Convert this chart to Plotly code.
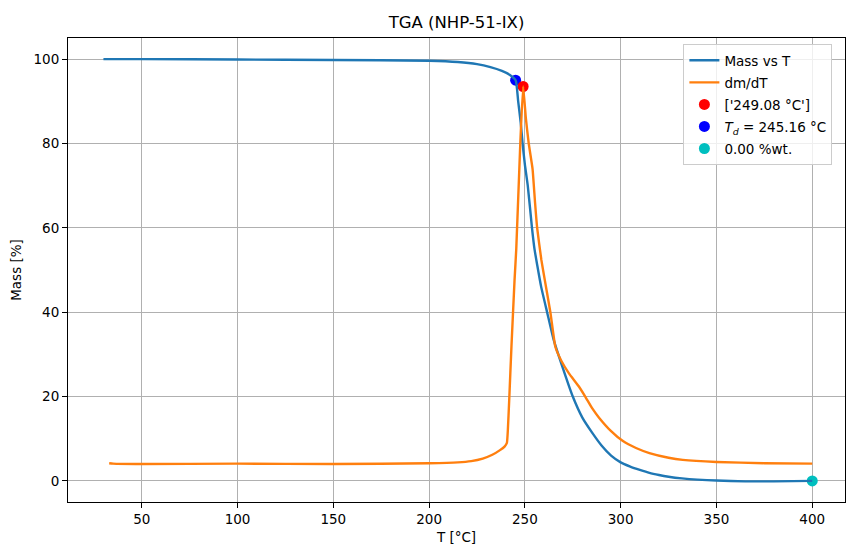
import plotly.graph_objects as go

# Thermogravimetric curve: temperature [°C] and remaining mass [%]
temp_mass = [30, 50, 100, 150, 200, 215, 225, 232, 238, 242, 245.16, 246.5, 247.8,
             248.8, 250, 251.5, 253.7, 255, 256.5, 258.5, 261.6, 265, 270, 275, 280,
             285, 290, 295, 300, 305, 310, 315, 320, 325, 332, 340, 350, 365, 380, 400]
mass = [100.0, 100.0, 99.9, 99.8, 99.6, 99.3, 98.8, 98.1, 97.2, 96.3, 95.0, 90.0, 85.0,
        80.0, 75.0, 70.0, 60.0, 55.0, 51.0, 46.0, 40.0, 33.5, 26.5, 20.0, 15.0,
        11.5, 8.4, 6.0, 4.4, 3.4, 2.6, 1.9, 1.4, 1.0, 0.6, 0.3, 0.1, -0.1, -0.1, 0.0]

# Scaled derivative curve dm/dT
temp_deriv = [33, 35, 50, 100, 150, 200, 215, 222, 228, 233, 237, 239.5, 240.6, 241.1,
              241.8, 243, 244.6, 245.5, 247.6, 249.08, 250.5, 252, 254, 255.3, 256.4,
              258.6, 260.4, 263.3, 265.9, 269, 273, 278, 281.5, 285, 288.7, 295, 301,
              308, 315, 325, 332.4, 350, 375, 400]
deriv = [4.2, 4.1, 4.0, 4.1, 4.0, 4.2, 4.4, 4.7, 5.3, 6.2, 7.3, 8.2, 9.0, 12.0,
         19.0, 32.0, 47.6, 55.0, 80.0, 93.5, 86.0, 80.0, 74.0, 66.0, 60.0,
         52.4, 47.6, 40.0, 31.8, 28.5, 25.5, 22.5, 20.0, 17.3, 15.0, 11.8, 9.5,
         7.8, 6.6, 5.5, 5.0, 4.5, 4.2, 4.1]

# Characteristic points
peak_temp, peak_val = 249.08, 93.5
onset_temp, onset_mass = 245.16, 95.0
final_temp, final_mass = 400, 0.00

font = dict(family="DejaVu Sans", size=13.5, color="black")

fig = go.Figure()

# markers first so the curves are drawn over them
fig.add_trace(go.Scatter(x=[onset_temp], y=[onset_mass], mode="markers",
                         marker=dict(color="#0000ff", size=11),
                         name=f"<i>T<sub>d</sub></i> = {onset_temp:.2f} °C",
                         legendrank=4, legendgroup="d"))
fig.add_trace(go.Scatter(x=[peak_temp], y=[peak_val], mode="markers",
                         marker=dict(color="#ff0000", size=11),
                         name=f"['{peak_temp:.2f} °C']", legendrank=3, legendgroup="c"))
fig.add_trace(go.Scatter(x=[final_temp], y=[final_mass], mode="markers",
                         marker=dict(color="#00bfbf", size=11),
                         name=f"{final_mass:.2f} %wt.", legendrank=5, legendgroup="e"))
fig.add_trace(go.Scatter(x=temp_mass, y=mass, mode="lines",
                         line=dict(color="#1f77b4", width=2.4, shape="spline", smoothing=0.5),
                         name="Mass vs T", legendrank=1, legendgroup="a"))
fig.add_trace(go.Scatter(x=temp_deriv, y=deriv, mode="lines",
                         line=dict(color="#ff7f0e", width=2.4, shape="spline", smoothing=0.4),
                         name="dm/dT", legendrank=2, legendgroup="b"))

axis_common = dict(showgrid=True, gridcolor="#b0b0b0", gridwidth=1, zeroline=False,
                   showline=True, linecolor="black", linewidth=1, mirror=True,
                   ticks="outside", ticklen=5, tickwidth=1, tickcolor="black",
                   tickfont=font)

fig.update_layout(
    width=846, height=546,
    margin=dict(l=68, r=1, t=38, b=44),
    plot_bgcolor="white", paper_bgcolor="white",
    font=font,
    title=dict(text="TGA (NHP-51-IX)", x=0.5, xref="paper", y=1 - 22 / 546,
               yref="container", yanchor="middle", xanchor="center",
               font=dict(family="DejaVu Sans", size=16.5, color="black")),
    xaxis=dict(range=[11.5, 417.1], tickvals=[50, 100, 150, 200, 250, 300, 350, 400],
               title=dict(text="T [°C]", font=font, standoff=6), **axis_common),
    yaxis=dict(range=[-5, 105], tickvals=[0, 20, 40, 60, 80, 100],
               title=dict(text="Mass [%]", font=font, standoff=8), **axis_common),
    legend=dict(x=0.792, y=0.987, xanchor="left", yanchor="top",
                bgcolor="rgba(255,255,255,0.8)", bordercolor="#cccccc", borderwidth=1,
                font=font, traceorder="grouped", tracegroupgap=1.5, itemwidth=30),
    showlegend=True,
)

fig.write_html("out.html")
